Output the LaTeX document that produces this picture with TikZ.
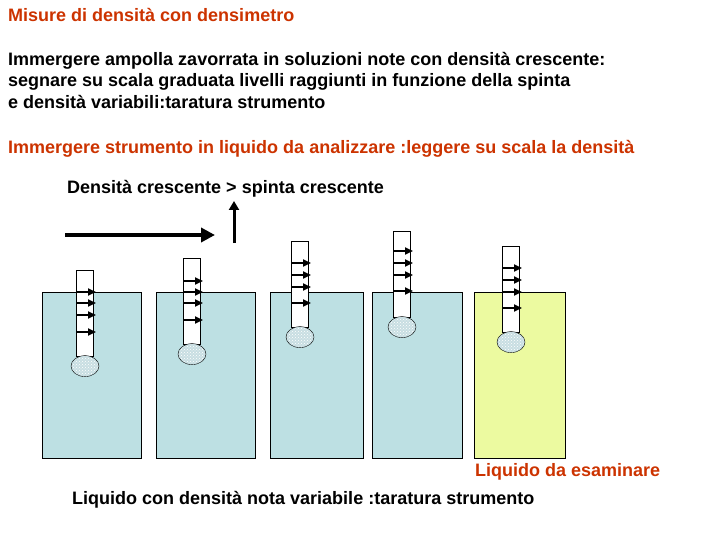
\documentclass[tikz,border=0pt]{standalone}
\usepackage{fontspec}
\setmainfont{Liberation Sans}
\usetikzlibrary{arrows.meta,patterns,shapes.geometric}
\definecolor{rd}{RGB}{204,51,0}
\definecolor{wat}{RGB}{189,224,227}
\definecolor{ylw}{RGB}{236,250,160}
\definecolor{bulb}{RGB}{200,222,226}
\begin{document}
\begin{tikzpicture}[x=1pt,y=-1pt,
  txt/.style={anchor=west,font=\bfseries\fontsize{18}{21.5}\selectfont,inner sep=0pt,align=left},
  tank/.style={draw=black,line width=0.5pt},
  tick/.style={-{Triangle[length=8pt,width=7pt]},line width=1.8pt}]
\useasboundingbox (0,0) rectangle (720,540);
\node[txt,text=rd] (t1) at (8,15) {Misure di densità con densimetro};
\node[txt,anchor=north west] (t2) at (8,52) {Immergere ampolla zavorrata in soluzioni note con densità crescente:\\segnare su scala graduata livelli raggiunti in funzione della spinta\\e densità variabili:taratura strumento};
\node[txt,text=rd] (t3) at (8,149) {Immergere strumento in liquido da analizzare :leggere su scala la densità};
\node[txt] (t4) at (67,189) {Densità crescente > spinta crescente};
\coordinate (a1) at (65,235); \coordinate (a2) at (215,235);
\draw[line width=4pt,-{Triangle[length=14pt,width=14pt]}] (a1) -- (a2);
\coordinate (v1) at (234,243); \coordinate (v2) at (234,201);
\draw[line width=3pt,-{Triangle[length=9pt,width=10pt]}] (v1) -- (v2);
\node[tank,fill=wat,minimum width=99pt,minimum height=166pt,anchor=north west,inner sep=0] (k1) at (42,292) {};
\node[tank,fill=wat,minimum width=99pt,minimum height=166pt,anchor=north west,inner sep=0] (k2) at (156,292) {};
\node[tank,fill=wat,minimum width=93pt,minimum height=166pt,anchor=north west,inner sep=0] (k3) at (270,292) {};
\node[tank,fill=wat,minimum width=90pt,minimum height=166pt,anchor=north west,inner sep=0] (k4) at (372,292) {};
\node[tank,fill=ylw,minimum width=91pt,minimum height=166pt,anchor=north west,inner sep=0] (k5) at (474,292) {};
\foreach \n/\cx/\top/\a/\b/\c/\d in {1/85/270/292/303/315/332, 2/192/258/281/292/303/320, 3/300/241/263/275/287/303, 4/402/231/251/263/275/291, 5/511/246/268/280/292/308}{
  \node[draw,fill=white,minimum width=17pt,minimum height=86pt,anchor=north,inner sep=0] (s\n) at (\cx,\top) {};
  \node[draw,ellipse,fill=bulb,minimum width=28pt,minimum height=21pt,inner sep=0,anchor=north,yshift=1pt] (b\n) at (s\n.south) {};
  \fill[pattern=crosshatch dots,pattern color=white] (b\n) ellipse (13pt and 9.5pt);
  \foreach \y in {\a,\b,\c,\d}{
    \coordinate (p) at (\cx-8,\y); \coordinate (q) at (\cx+11,\y);
    \draw[tick] (p) -- (q);}
}
\node[txt,text=rd] (l1) at (475,472) {Liquido da esaminare};
\node[txt] (l2) at (72,500) {Liquido con densità nota variabile :taratura strumento};
\end{tikzpicture}
\end{document}
